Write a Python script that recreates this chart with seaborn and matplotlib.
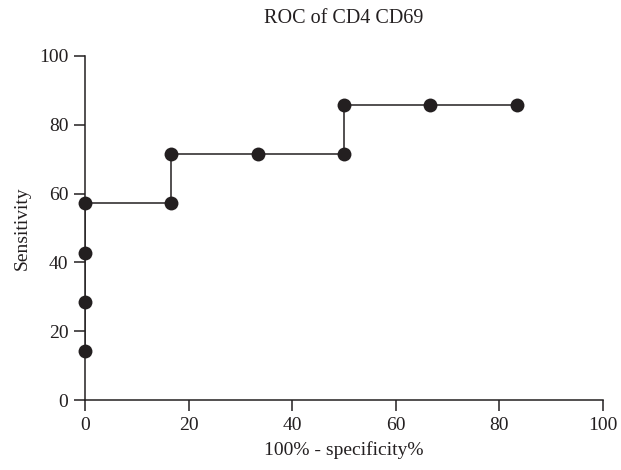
import matplotlib
matplotlib.use("Agg")
import matplotlib.pyplot as plt
import seaborn as sns
import pandas as pd

fpr = [0, 0, 0, 0, 16.67, 16.67, 33.33, 50, 50, 66.67, 83.33]
sens = [14.29, 28.57, 42.86, 57.14, 57.14, 71.43, 71.43, 71.43, 85.71, 85.71, 85.71]
xticks = [0, 20, 40, 60, 80, 100]
yticks = [0, 20, 40, 60, 80, 100]

sns.set_style("ticks")
plt.rcParams['font.family'] = ['Liberation Serif', 'DejaVu Serif']

df = pd.DataFrame({"fpr": fpr, "sens": sens})
col = "#231f20"

fig = plt.figure(figsize=(6.21, 4.70), dpi=100)
ax = fig.add_axes([0.1369, 0.1489, 0.8341, 0.732])
sns.lineplot(data=df, x="fpr", y="sens", ax=ax, color=col, linewidth=1.1,
             sort=False, estimator=None)
sns.scatterplot(data=df, x="fpr", y="sens", ax=ax, color=col, s=100,
                edgecolor=col, linewidth=0, zorder=5, clip_on=False)
ax.set_xlim(0, 100)
ax.set_ylim(0, 100)
ax.set_xticks(xticks)
ax.set_yticks(yticks)
for s in ["top", "right"]:
    ax.spines[s].set_visible(False)
for s in ["left", "bottom"]:
    ax.spines[s].set_color(col)
    ax.spines[s].set_linewidth(1.1)
ax.tick_params(axis="both", direction="out", length=8, width=1.1, color=col,
               labelsize=14, labelcolor=col, pad=4)
ax.set_xlabel("100% - specificity%", fontsize=14, color=col, labelpad=5)
ax.set_ylabel("Sensitivity", fontsize=14, color=col, labelpad=6)
ax.set_title("ROC of CD4 CD69", fontsize=14.5, color=col, pad=24)
fig.savefig("out.png", dpi=100)
